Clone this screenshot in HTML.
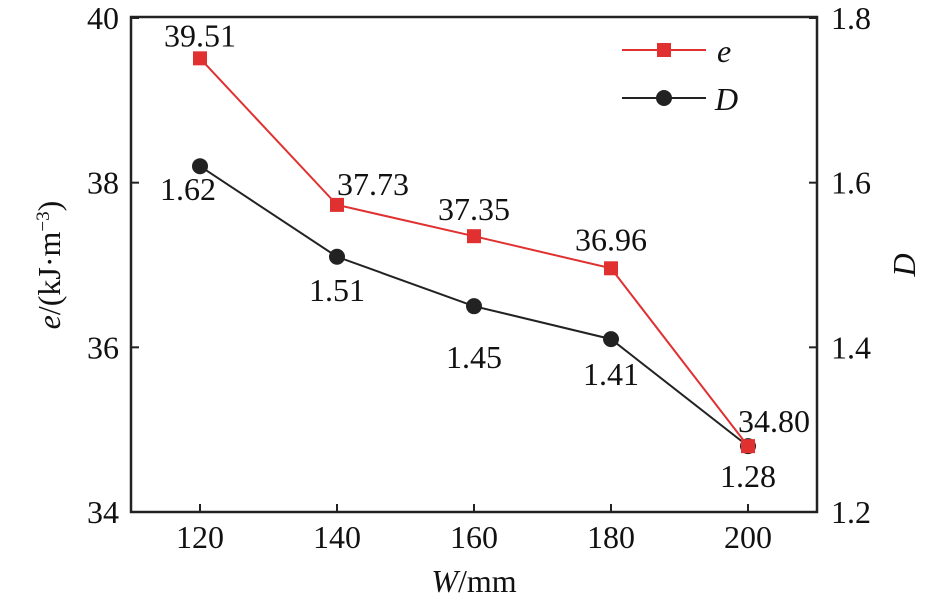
<!DOCTYPE html>
<html><head><meta charset="utf-8"><style>
body{margin:0;background:#fff}
text{font-family:"Liberation Serif",serif;fill:#111}
</style></head><body>
<svg id="chart" width="945" height="606" viewBox="0 0 945 606" xmlns="http://www.w3.org/2000/svg">
<rect x="131" y="17" width="686" height="495" fill="none" stroke="#222" stroke-width="2.5"/>
<g id="axes"></g>
<g id="marks"></g>
<g>
<line x1="622" y1="50" x2="706" y2="50" stroke="#e03030" stroke-width="2"/>
<rect x="657" y="43" width="14" height="14" fill="#e03030"/>
<text x="717" y="62" font-size="32" font-style="italic">e</text>
<line x1="622" y1="98" x2="706" y2="98" stroke="#222" stroke-width="2"/>
<circle cx="664" cy="98" r="8" fill="#222"/>
<text x="715" y="110" font-size="32" font-style="italic">D</text>
</g>
<text x="474" y="592" font-size="32" text-anchor="middle"><tspan font-style="italic">W</tspan>/mm</text>
<text transform="translate(60,265) rotate(-90)" font-size="32" text-anchor="middle"><tspan font-style="italic">e</tspan>/(kJ·m<tspan font-size="19" dy="-11">−3</tspan><tspan dy="11">)</tspan></text>
<text transform="translate(915,265) rotate(-90)" font-size="32" font-style="italic" text-anchor="middle">D</text>
</svg>
<script>
const categories=[120,140,160,180,200];
const eValues=[39.51,37.73,37.35,36.96,34.80];
const dValues=[1.62,1.51,1.45,1.41,1.28];
const eLabels=["39.51","37.73","37.35","36.96","34.80"];
const dLabels=["1.62","1.51","1.45","1.41","1.28"];
const xTicks=[120,140,160,180,200];
const yLeftTicks=[34,36,38,40];
const yRightTicks=[1.2,1.4,1.6,1.8];
// label placement offsets (style, not data)
const eLabOff=[[0,-12],[36,-10],[0,-16],[0,-18],[26,-14]];
const dLabOff=[[-12,34],[0,44],[0,62],[0,46],[0,41]];
const NS="http://www.w3.org/2000/svg";
const xs=v=>200+(v-120)*(548/80);
const yl=v=>512-(v-34)*(494/6);
const yr=v=>512-(v-1.2)*(494/0.6);
function mk(tag,attrs,parent,txt){const el=document.createElementNS(NS,tag);for(const k in attrs)el.setAttribute(k,attrs[k]);if(txt!==undefined)el.textContent=txt;parent.appendChild(el);return el;}
const axes=document.getElementById('axes'),marks=document.getElementById('marks');
xTicks.forEach(t=>{const x=xs(t);
const l=mk('line',{x1:x,y1:512,x2:x,y2:504,stroke:'#222','stroke-width':2},axes);


const tx=mk('text',{x:x,y:548,'font-size':32,'text-anchor':'middle'},axes,String(t));

});
yLeftTicks.forEach(t=>{const y=yl(t);
const l=mk('line',{x1:131,y1:y,x2:139,y2:y,stroke:'#222','stroke-width':2},axes);


const tx=mk('text',{x:119,y:y+11,'font-size':32,'text-anchor':'end'},axes,String(t));

});
yRightTicks.forEach(t=>{const y=yr(t);
const l=mk('line',{x1:809,y1:y,x2:817,y2:y,stroke:'#222','stroke-width':2},axes);


const tx=mk('text',{x:831,y:y+11,'font-size':32},axes,t.toFixed(1));

});
const dl=mk('polyline',{points:categories.map((c,i)=>xs(c)+','+yr(dValues[i])).join(' '),fill:'none',stroke:'#222','stroke-width':2},marks);


const el=mk('polyline',{points:categories.map((c,i)=>xs(c)+','+yl(eValues[i])).join(' '),fill:'none',stroke:'#e03030','stroke-width':2},marks);


categories.forEach((c,i)=>{const x=xs(c),y=yr(dValues[i]);
const p=mk('circle',{cx:x,cy:y,r:8,fill:'#222'},marks);


const t=mk('text',{x:x+dLabOff[i][0],y:y+dLabOff[i][1],'font-size':32,'text-anchor':'middle'},marks,dLabels[i]);

});
categories.forEach((c,i)=>{const x=xs(c),y=yl(eValues[i]);
const r=mk('rect',{x:x-7,y:y-7,width:14,height:14,fill:'#e03030'},marks);


const t=mk('text',{x:x+eLabOff[i][0],y:y+eLabOff[i][1],'font-size':32,'text-anchor':'middle'},marks,eLabels[i]);

});
</script>
</body></html>
